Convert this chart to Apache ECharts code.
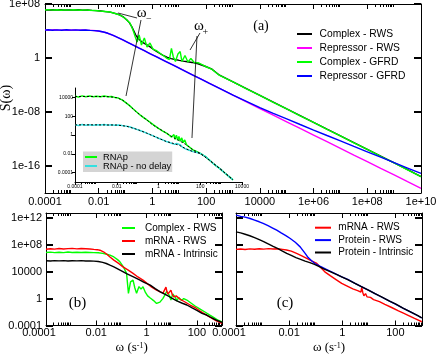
<!DOCTYPE html>
<html><head><meta charset="utf-8">
<script src="https://cdn.jsdelivr.net/npm/echarts@6/dist/echarts.min.js"></script>
<style>html,body{margin:0;padding:0;background:#fff}#c{width:436px;height:355px}</style>
</head><body><div id="c"></div>
<script>
// ---------------- DATA (omega, S(omega)) ----------------
// Panel (a)
const complexRws = [[1e-4,1.25e7],[1.5e-4,1.38e7],[2.2e-4,1.3e7],[3.3e-4,1.42e7],[5e-4,1.28e7],[7.5e-4,1.36e7],[1.1e-3,1.3e7],[1.7e-3,1.4e7],[2.5e-3,1.25e7],[3.8e-3,1.3e7],[5.6e-3,1.15e7],[8e-3,1.05e7],[0.012,9e6],[0.018,7.5e6],[0.027,6.2e6],[0.04,4e6],[0.06,2.4e6],[0.085,1.1e6],[0.11,4.5e5],[0.14,1.6e5],[0.17,4.5e4],[0.2,1.2e4],[0.24,2.5e3],[0.3,700],[0.4,250],[0.6,95],[0.85,40],[1.2,14],[1.7,6],[2.5,2.5],[3.6,1.2],[5,0.8],[7,0.6],[10,0.45],[14,0.35],[20,0.28],[30,0.22],[50,0.14],[91,0.06],[166,0.022],[316,2.8e-3],[1e3,2.9e-4],[3.16e3,2.8e-5],[1e4,2.9e-6],[3.16e4,2.9e-7],[1e5,2.8e-8],[3.16e5,2.9e-9],[1e6,2.8e-10],[3.16e6,2.8e-11],[1e7,3.0e-12],[3.16e7,2.8e-13],[1e8,2.8e-14],[3.16e8,2.8e-15],[1e9,2.8e-16],[3.16e9,2.8e-17],[1e10,2.7e-18]];
const repressorRws = [[1e-4,1.45e4],[1.5e-4,1.3e4],[2.2e-4,1.5e4],[3.3e-4,1.35e4],[5e-4,1.45e4],[7.5e-4,1.3e4],[1.1e-3,1.4e4],[1.7e-3,1.35e4],[2.5e-3,1.4e4],[3.8e-3,1.3e4],[5.6e-3,1.25e4],[8e-3,1.1e4],[0.012,8.6e3],[0.018,6e3],[0.027,3.3e3],[0.04,1.7e3],[0.06,800],[0.1,300],[0.16,120],[0.25,48],[0.4,19],[0.63,7.5],[1,3.0],[1.6,1.2],[2.5,0.5],[4,0.19],[6.3,0.078],[10,0.031],[16,0.012],[25,5e-3],[40,1.9e-3],[63,7.8e-4],[100,3.1e-4],[316,3.1e-5],[1e3,3.2e-6],[3.16e3,3.2e-7],[1e4,3.3e-8],[3.16e4,3.4e-9],[1e5,3.5e-10],[3.16e5,3.6e-11],[1e6,3.8e-12],[3.16e6,4e-13],[1e7,4.1e-14],[3.16e7,4.2e-15],[1e8,4.4e-16],[3.16e8,4.5e-17],[1e9,4.7e-18],[3.16e9,4.8e-19],[1e10,5e-20]];
const complexGfrd = [[1e-4,1.3e7],[1.4e-4,1.45e7],[2e-4,1.25e7],[2.8e-4,1.4e7],[4e-4,1.2e7],[5.5e-4,1.35e7],[8e-4,1.25e7],[1.1e-3,1.4e7],[1.6e-3,1.3e7],[2.2e-3,1.2e7],[3.1e-3,1.35e7],[4.5e-3,1.2e7],[7.2e-3,1.1e7],[0.011,9.1e6],[0.017,7.7e6],[0.026,6.5e6],[0.041,3.9e6],[0.062,2.3e6],[0.087,1.0e6],[0.11,4.3e5],[0.145,1.5e5],[0.17,3.9e4],[0.2,7.1e3],[0.23,1.3e3],[0.27,230],[0.32,2.6e3],[0.39,85],[0.5,910],[0.63,43],[0.81,170],[1.05,21],[1.48,11],[2.1,3.9],[2.7,2.0],[3.5,0.85],[4.3,0.6],[5.1,26],[6.0,1.4],[7.2,0.3],[8.9,3.9],[10.8,9.1],[12.6,0.3],[16.3,2.3],[21,0.26],[27,0.85],[36,0.22],[50,0.2],[91,0.06],[166,0.02],[316,2.6e-3],[1e3,3.0e-4],[3.16e3,2.6e-5],[1e4,3.0e-6],[3.16e4,2.7e-7],[1e5,2.9e-8],[3.16e5,2.7e-9],[1e6,3.0e-10],[3.16e6,2.6e-11],[1e7,2.9e-12],[3.16e7,2.7e-13],[1e8,2.9e-14],[3.16e8,2.6e-15],[1e9,2.9e-16],[3.16e9,2.7e-17],[1e10,2.6e-18]];
const repressorGfrd = [[1e-4,1.35e4],[1.3e-4,1.5e4],[1.9e-4,1.3e4],[2.8e-4,1.45e4],[4.2e-4,1.3e4],[6.3e-4,1.5e4],[9.5e-4,1.35e4],[1.4e-3,1.45e4],[2.1e-3,1.3e4],[3.2e-3,1.4e4],[4.8e-3,1.25e4],[7e-3,1.15e4],[0.01,9.8e3],[0.015,7e3],[0.022,4.6e3],[0.033,2.4e3],[0.05,1.15e3],[0.08,470],[0.13,180],[0.2,75],[0.32,29],[0.5,12],[0.8,4.6],[1.26,1.9],[2,0.75],[3.2,0.3],[5,0.12],[8,0.048],[12.6,0.019],[20,7.6e-3],[32,3e-3],[50,1.2e-3],[80,4.8e-4],[126,1.9e-4],[316,3.2e-5],[1e3,3.1e-6],[3.16e3,3.8e-7],[1e4,4.5e-8],[3.16e4,6.3e-9],[1e5,9.5e-10],[3.16e5,1.4e-10],[1e6,2.1e-11],[3.16e6,3.3e-12],[1e7,5.2e-13],[3.16e7,7.9e-14],[1e8,1.26e-14],[3.16e8,2e-15],[1e9,3.2e-16],[3.16e9,5e-17],[1e10,7.9e-18]];
// Inset of (a)
const rnap = [[1e-4,1.3e4],[1.5e-4,1.1e4],[2.2e-4,1.45e4],[3.3e-4,1.2e4],[5e-4,1.4e4],[7.5e-4,1.15e4],[1.1e-3,1.35e4],[1.7e-3,1.2e4],[2.5e-3,1.4e4],[3.8e-3,1.15e4],[5.6e-3,1.25e4],[8e-3,1.0e4],[0.012,8.5e3],[0.018,5.5e3],[0.027,2.8e3],[0.04,1.4e3],[0.06,620],[0.09,280],[0.14,120],[0.2,65],[0.27,42],[0.4,22],[0.6,11],[1,5],[1.6,2.6],[2.4,1.6],[3.2,1.0],[4.2,0.6],[5.0,0.45],[5.5,1.1],[6.2,0.35],[7.2,0.95],[8.3,0.28],[9.5,0.7],[11,0.22],[13,0.5],[15,0.15],[18,0.3],[22,0.09],[28,0.06],[45,0.026],[70,0.017],[100,0.011],[180,5e-3],[300,1.8e-3],[500,6.5e-4],[900,2.5e-4],[1.5e3,9e-5],[2.5e3,3.5e-5],[3.7e3,1.7e-5]];
const rnapNoDelay = [[1e-4,12],[1.5e-4,10.5],[2.2e-4,13],[3.3e-4,11],[5e-4,12.5],[7.5e-4,10.8],[1.1e-3,12.5],[1.7e-3,11.5],[2.5e-3,12.8],[3.8e-3,11],[5.6e-3,12],[8e-3,11.2],[0.012,11.5],[0.018,10],[0.027,8.8],[0.04,7.5],[0.06,5.5],[0.09,4],[0.14,2.8],[0.2,2.1],[0.27,1.6],[0.4,1.1],[0.6,0.75],[1,0.45],[1.6,0.3],[2.4,0.2],[3.2,0.17],[4.2,0.13],[5,0.16],[6,0.1],[7.5,0.13],[9,0.08],[11,0.09],[15,0.045],[22,0.03],[30,0.024],[45,0.017],[70,0.014],[100,0.011],[180,5e-3],[300,1.8e-3],[500,6.5e-4],[900,2.5e-4],[1.5e3,9e-5],[2.5e3,3.5e-5],[3.7e3,1.7e-5]];
const rnapTheory = [[1e-4,1.25e4],[1e-3,1.25e4],[4e-3,1.2e4],[0.01,9.5e3],[0.02,4.8e3],[0.04,1.4e3],[0.08,330],[0.15,110],[0.27,42],[0.5,13],[1,5],[2.4,1.6],[5,0.55],[10,0.25],[20,0.1],[45,0.026],[100,0.011],[300,1.8e-3],[900,2.5e-4],[3.7e3,1.7e-5]];
const noDelayTheory = [[1e-4,12],[1e-3,12],[0.01,11.5],[0.03,8.5],[0.1,3.8],[0.27,1.6],[1,0.45],[2.4,0.2],[5,0.13],[10,0.08],[20,0.035],[45,0.017],[100,0.011],[300,1.8e-3],[900,2.5e-4],[3.7e3,1.7e-5]];
// Panel (b)
const bComplexRws = [[1e-4,6.9e6],[1.5e-4,7.8e6],[2.2e-4,6.5e6],[3.3e-4,7.5e6],[5e-4,6.6e6],[7.5e-4,8e6],[1.1e-3,7e6],[1.7e-3,7.6e6],[2.5e-3,6.8e6],[3.8e-3,7.4e6],[5.6e-3,7e6],[8e-3,6.6e6],[0.012,6.2e6],[0.018,5e6],[0.026,3.8e6],[0.035,2.8e6],[0.05,1.5e6],[0.07,6e5],[0.087,2.8e5],[0.12,5e4],[0.16,5.4e3],[0.19,5.9],[0.23,300],[0.29,550],[0.34,40],[0.4,5.9],[0.5,60],[0.6,25],[0.72,56],[0.9,8],[1.1,2.5],[1.4,1.2],[1.9,0.5],[2.5,0.19],[3.4,0.3],[4.5,1.07],[5.5,4],[6.3,12],[7.1,18],[8,3],[9.3,0.6],[11,5],[12.3,9.1],[14,1.5],[16,0.43],[19,1.5],[21,2.3],[25,0.5],[30,1.0],[40,0.6],[60,0.2],[85,0.078],[130,0.03],[210,0.01],[330,3.5e-3],[480,1.5e-3],[700,6e-4],[1000,3.3e-4]];
const bMrnaRws = [[1e-4,2.1e7],[1.5e-4,2.5e7],[2.2e-4,2.2e7],[3.3e-4,2.7e7],[5e-4,2.3e7],[7.5e-4,2.6e7],[1.1e-3,2.8e7],[1.7e-3,2.4e7],[2.5e-3,2.7e7],[3.8e-3,2.5e7],[5.6e-3,2.3e7],[8e-3,2.0e7],[0.011,1.8e7],[0.014,1.5e7],[0.02,8e6],[0.027,3.5e6],[0.035,1.5e6],[0.05,5e5],[0.08,1.5e5],[0.115,5e4],[0.18,1.8e4],[0.29,5.4e3],[0.45,1.6e3],[0.72,550],[1.1,150],[1.6,50],[2.5,18],[3.5,10],[4.5,6.5],[5.2,8],[5.9,50],[6.5,10],[7.1,4.7],[8,6],[9.3,18],[10.5,4],[12.3,1.7],[15,2.5],[21,0.85],[30,0.4],[54,0.11],[90,0.04],[135,0.014],[210,5e-3],[330,1.8e-3],[600,5e-4],[1000,2e-4]];
const bMrnaIntrinsic = [[1e-4,4e5],[1.5e-4,3.7e5],[2.2e-4,4.3e5],[3.3e-4,3.9e5],[5e-4,4.2e5],[7.5e-4,3.8e5],[1.1e-3,4.1e5],[1.7e-3,3.9e5],[2.5e-3,4.2e5],[3.8e-3,3.7e5],[5.6e-3,3.9e5],[8e-3,3.6e5],[0.012,3.2e5],[0.018,2.3e5],[0.025,1.6e5],[0.035,9e4],[0.05,5e4],[0.065,3e4],[0.1,1.3e4],[0.16,5e3],[0.3,1.7e3],[0.5,650],[0.8,250],[1.4,100],[2.2,30],[3.5,10],[6.3,3.3],[10,1.2],[16,0.45],[25,0.22],[40,0.11],[65,0.04],[100,0.017],[160,6.5e-3],[245,3.6e-3],[400,1.3e-3],[650,5.5e-4],[1000,3e-4]];
// Panel (c)
const cMrnaRws = [[1e-4,2e7],[1.5e-4,2.3e7],[2.2e-4,1.9e7],[3.3e-4,2.4e7],[5e-4,2.1e7],[7.5e-4,2.5e7],[1.1e-3,2.2e7],[1.7e-3,2.6e7],[2.5e-3,2.3e7],[3.8e-3,2.5e7],[5.6e-3,2.0e7],[8e-3,1.6e7],[0.012,1.1e7],[0.019,5e6],[0.03,2.2e6],[0.046,9e5],[0.07,4e5],[0.11,1.6e5],[0.16,3.5e4],[0.22,9.3e3],[0.35,2.5e3],[0.6,600],[0.95,180],[1.6,66],[2.5,28],[4,14],[5.0,9],[5.4,45],[5.9,8],[6.5,2.5],[7.5,5.5],[8.5,1.8],[10,3],[11.5,1.5],[13,2],[15,0.7],[17,0.6],[25,0.35],[40,0.14],[72,0.047],[130,0.015],[200,6.8e-3],[300,3.2e-3],[500,1.2e-3],[980,3.6e-4]];
const cProteinRws = [[1e-4,2.4e12],[1.5e-4,1.6e12],[2.2e-4,1.2e12],[3.4e-4,7.6e11],[5e-4,4.5e11],[7.5e-4,2.5e11],[1.05e-3,1.4e11],[1.6e-3,6.5e10],[2.3e-3,3.2e10],[3.4e-3,1.4e10],[5e-3,5.5e9],[7.5e-3,2.2e9],[0.011,8.3e8],[0.017,2.3e8],[0.026,4.7e7],[0.04,5e6],[0.052,1.2e6],[0.07,4e5],[0.093,1.6e5],[0.15,6e4],[0.25,2.2e4],[0.45,7e3],[0.95,1.7e3],[1.6,680],[3,178],[5,65],[10,16],[17,5.4],[30,1.7],[60,0.41],[100,0.15],[200,0.036],[400,8.9e-3],[700,2.8e-3],[980,1.3e-3]];
const cProteinIntrinsic = [[1e-4,8e9],[1.5e-4,5.5e9],[2.2e-4,3.5e9],[3.3e-4,2.1e9],[5e-4,1.1e9],[7.5e-4,5.5e8],[1.1e-3,2.8e8],[1.7e-3,1.2e8],[2.5e-3,5.5e7],[3.8e-3,2.5e7],[5.6e-3,1.1e7],[8.1e-3,5e6],[0.012,2.5e6],[0.018,1.2e6],[0.027,6.5e5],[0.04,3.6e5],[0.06,2.2e5],[0.09,1.2e5],[0.13,6e4],[0.2,2.6e4],[0.35,9.8e3],[0.6,3.8e3],[0.95,1.7e3],[1.6,650],[3,185],[5,62],[10,16.5],[17,5.2],[30,1.75],[60,0.4],[100,0.16],[200,0.035],[400,9e-3],[700,2.9e-3],[980,1.35e-3]];
// Annotation pointers (omega, S) in panel (a) data space
const omegaMinusPointers = [[[0.0522,4.64e6],[0.267,8.43e5]],[[0.375,4.27e5],[0.104,2.34e-6]]];
const omegaPlusPointers = [[[59,5.06e3],[25.1,15.3]],[[45.7,1.82e3],[29.7,1.41e-12]]];
// Tick labels
const aXTicks = [1e-4,1e-2,1,1e2,1e4,1e6,1e8,1e10];
const aXLabels = ['0.0001','0.01','1','100','10000','1e+06','1e+08','1e+10'];
const aYTicks = [1e-16,1e-8,1,1e8];
const aYLabels = ['1e-16','1e-08','1','1e+08'];
const insTicks = [1e-4,1e-2,1,1e2,1e4];
const insLabels = ['0.0001','0.01','1','100','10000'];
const bcXTicks = [1e-4,1e-2,1,1e2];
const bcXLabels = ['{m|0.0001}','0.01','1','100'];
const bcYTicks = [1e-4,1,1e4,1e8,1e12];
const bcYLabels = ['0.0001','1','10000','1e+08','1e+12'];

// ---------------- BUILD ----------------
const SANS = '"Liberation Sans", Arial, sans-serif';
const SERIF = '"Liberation Serif", "Times New Roman", serif';
const L = Math.log10;
const toXY = arr => arr.map(p => [L(p[0]), L(p[1])]);
const findLabel = (ticks, labels) => v => { for (let i = 0; i < ticks.length; i++) if (Math.abs(L(ticks[i]) - v) < 1e-6) return labels[i]; return ''; };
function minorVals(e0, e1) { const out = []; for (let e = e0; e < e1; e += 2) for (let k = 2; k <= 9; k++) { const v = L(k) + e; if (v < e1) out.push(v); } return out; }

function axis(o) {
  const fs = o.fs || 11;
  return {
    type: 'value', gridIndex: o.g, position: o.pos, min: o.min, max: o.max,
    axisLine: { show: o.line !== false, onZero: false, lineStyle: { color: '#000', width: 1 } },
    axisTick: { show: true, inside: o.inside !== false, length: o.len, lineStyle: { color: '#000', width: o.tw || 1 }, customValues: o.vals },
    axisLabel: o.ticks ? { show: true, customValues: o.vals, formatter: findLabel(o.ticks, o.labels), fontFamily: SANS, fontSize: fs, color: '#000', margin: o.margin,
      rich: { m: { fontFamily: SANS, fontSize: fs, color: '#000', padding: [0, 14, 0, 0] } } } : { show: false },
    splitLine: { show: false }, minorTick: { show: false }, minorSplitLine: { show: false }
  };
}
const aR = [-4, 10], aYR = [-20, 8], iR = [-4, 4], iYR = [-5, 5], bR = [-4, 3], bYR = [-4, 12.7];
const xAxis = [
  axis({ g: 0, pos: 'bottom', min: aR[0], max: aR[1], vals: aXTicks.map(L), ticks: aXTicks, labels: aXLabels, len: 5, margin: 3 }),
  axis({ g: 0, pos: 'bottom', min: aR[0], max: aR[1], vals: minorVals(-4, 10), len: 3, line: false }),
  axis({ g: 0, pos: 'top', min: aR[0], max: aR[1], vals: aXTicks.map(L), len: 5 }),
  axis({ g: 0, pos: 'top', min: aR[0], max: aR[1], vals: minorVals(-4, 10), len: 3, line: false }),
  axis({ g: 1, pos: 'bottom', min: iR[0], max: iR[1], vals: insTicks.map(L), ticks: insTicks, labels: insLabels, len: 3, inside: false, fs: 5, margin: 2 }),
  axis({ g: 1, pos: 'bottom', min: iR[0], max: iR[1], vals: minorVals(-4, 4), len: 2, inside: false, line: false }),
  axis({ g: 2, pos: 'bottom', min: bR[0], max: bR[1], vals: bcXTicks.map(L), ticks: bcXTicks, labels: bcXLabels, len: 5, margin: 2 }),
  axis({ g: 2, pos: 'bottom', min: bR[0], max: bR[1], vals: minorVals(-4, 3), len: 3, line: false }),
  axis({ g: 2, pos: 'top', min: bR[0], max: bR[1], vals: bcXTicks.map(L), len: 5 }),
  axis({ g: 2, pos: 'top', min: bR[0], max: bR[1], vals: minorVals(-4, 3), len: 3, line: false }),
  axis({ g: 3, pos: 'bottom', min: bR[0], max: bR[1], vals: bcXTicks.map(L), ticks: bcXTicks, labels: bcXLabels, len: 5, margin: 2 }),
  axis({ g: 3, pos: 'bottom', min: bR[0], max: bR[1], vals: minorVals(-4, 3), len: 3, line: false }),
  axis({ g: 3, pos: 'top', min: bR[0], max: bR[1], vals: bcXTicks.map(L), len: 5 }),
  axis({ g: 3, pos: 'top', min: bR[0], max: bR[1], vals: minorVals(-4, 3), len: 3, line: false })
];
const yAxis = [
  axis({ g: 0, pos: 'left', min: aYR[0], max: aYR[1], vals: aYTicks.map(L), ticks: aYTicks, labels: aYLabels, len: 7, tw: 2, margin: 5 }),
  axis({ g: 0, pos: 'right', min: aYR[0], max: aYR[1], vals: aYTicks.map(L), len: 7, tw: 2 }),
  axis({ g: 1, pos: 'left', min: iYR[0], max: iYR[1], vals: insTicks.map(L), ticks: insTicks, labels: insLabels, len: 3, inside: false, fs: 5, margin: 2 }),
  axis({ g: 2, pos: 'left', min: bYR[0], max: bYR[1], vals: bcYTicks.map(L), ticks: bcYTicks, labels: bcYLabels, len: 7, tw: 2, margin: 4 }),
  axis({ g: 2, pos: 'right', min: bYR[0], max: bYR[1], vals: bcYTicks.map(L), len: 7, tw: 2 }),
  axis({ g: 3, pos: 'left', min: bYR[0], max: bYR[1], vals: bcYTicks.map(L), len: 7, tw: 2 }),
  axis({ g: 3, pos: 'right', min: bYR[0], max: bYR[1], vals: bcYTicks.map(L), len: 7, tw: 2 })
];
function line(name, arr, xi, yi, color, width, dashed, extra) {
  return Object.assign({
    type: 'line', name, xAxisIndex: xi, yAxisIndex: yi, data: toXY(arr), symbol: 'none', showSymbol: false,
    color, itemStyle: { color }, lineStyle: { color, width, type: dashed ? [2, 2] : 'solid' }, silent: true, animation: false, clip: true
  }, extra || {});
}
const ptrLine = ptrs => ptrs.map(p => [{ coord: [L(p[0][0]), L(p[0][1])] }, { coord: [L(p[1][0]), L(p[1][1])] }]);
const markLine = { symbol: ['none', 'none'], silent: true, animation: false, label: { show: false }, lineStyle: { color: '#000', width: 0.8, type: 'solid' },
  data: ptrLine(omegaMinusPointers).concat(ptrLine(omegaPlusPointers)) };

const series = [
  line('Complex - RWS', complexRws, 0, 0, '#000000', 1.4),
  line('Repressor - RWS', repressorRws, 0, 0, '#ff00ff', 1.4),
  line('Complex - GFRD', complexGfrd, 0, 0, '#00ff00', 1.4, false, { markLine }),
  line('Repressor - GFRD', repressorGfrd, 0, 0, '#0000ff', 1.4),
  line('RNAp', rnap, 4, 2, '#00ff00', 1.5),
  line('RNAp - no delay', rnapNoDelay, 4, 2, '#33e0e0', 1.5),
  line('rnap theory', rnapTheory, 4, 2, '#000000', 1, true),
  line('no delay theory', noDelayTheory, 4, 2, '#000000', 1, true),
  line('Complex - RWS\u200b', bComplexRws, 6, 3, '#00ff00', 1.4),
  line('mRNA - RWS\u200b', bMrnaRws, 6, 3, '#ff0000', 1.4),
  line('mRNA - Intrinsic', bMrnaIntrinsic, 6, 3, '#000000', 1.4),
  line('mRNA - RWS\u200b\u200b', cMrnaRws, 10, 5, '#ff0000', 1.4),
  line('Protein - RWS', cProteinRws, 10, 5, '#0000ff', 1.4),
  line('Protein - Intrinsic', cProteinIntrinsic, 10, 5, '#000000', 1.4)
];
const strip = n => n.replace(/\u200b/g, '');
function legend(o) {
  return Object.assign({ orient: 'vertical', padding: 0, itemGap: 0, selectedMode: false, formatter: strip, icon: 'rect', itemHeight: 2 }, o);
}
const option = {
  animation: false,
  backgroundColor: '#fff',
  grid: [
    { left: 45, top: 4, width: 376, height: 189, containLabel: false, outerBoundsMode: 'none' },
    { left: 75, top: 88, width: 167, height: 94, containLabel: false, outerBoundsMode: 'none' },
    { left: 46, top: 213, width: 176, height: 112.5, containLabel: false, outerBoundsMode: 'none' },
    { left: 236, top: 213, width: 186, height: 112.5, containLabel: false, outerBoundsMode: 'none' }
  ],
  xAxis, yAxis, series,
  legend: [
    legend({ left: 297, top: 27, itemWidth: 15, data: ['Complex - RWS', 'Repressor - RWS', 'Complex - GFRD', 'Repressor - GFRD'],
      textStyle: { fontFamily: SANS, fontSize: 10.3, color: '#000', lineHeight: 14, padding: [0, 0, 0, 2.5] } }),
    legend({ left: 83, top: 151.5, padding: [1, 1, 1.5, 2], backgroundColor: '#d4d4d4', itemWidth: 12, data: ['RNAp', 'RNAp - no delay'],
      textStyle: { fontFamily: SANS, fontSize: 9.3, color: '#000', lineHeight: 7.5, padding: [0, 0, 0, 1] } }),
    legend({ left: 122, top: 221.5, itemWidth: 13, data: ['Complex - RWS\u200b', 'mRNA - RWS\u200b', 'mRNA - Intrinsic'],
      textStyle: { fontFamily: SANS, fontSize: 10, color: '#000', lineHeight: 13, padding: [0, 0, 0, 5] } }),
    legend({ left: 315, top: 221.5, itemWidth: 16, data: ['mRNA - RWS\u200b\u200b', 'Protein - RWS', 'Protein - Intrinsic'],
      textStyle: { fontFamily: SANS, fontSize: 10, color: '#000', lineHeight: 12.4, padding: [0, 0, 0, 2.3] } })
  ],
  graphic: [
    { type: 'text', x: 261, y: 26, style: { text: '(a)', font: '14px ' + SERIF, fill: '#000', align: 'center', verticalAlign: 'middle' } },
    { type: 'text', x: 77.5, y: 303.3, style: { text: '(b)', font: '15px ' + SERIF, fill: '#000', align: 'center', verticalAlign: 'middle' } },
    { type: 'text', x: 285, y: 303.3, style: { text: '(c)', font: '15px ' + SERIF, fill: '#000', align: 'center', verticalAlign: 'middle' } },
    { type: 'text', x: 6, y: 98, rotation: Math.PI / 2, style: { text: 'S(ω)', font: '14px ' + SERIF, fill: '#000', align: 'center', verticalAlign: 'middle' } },
    { type: 'text', x: 141.7, y: 13, style: { text: 'ω', font: '15px ' + SERIF, fill: '#000', align: 'center', verticalAlign: 'middle' } },
    { type: 'text', x: 148.7, y: 19.5, style: { text: '−', font: '10px ' + SERIF, fill: '#000', align: 'center', verticalAlign: 'middle' } },
    { type: 'text', x: 199, y: 26, style: { text: 'ω', font: '15px ' + SERIF, fill: '#000', align: 'center', verticalAlign: 'middle' } },
    { type: 'text', x: 205.3, y: 32.5, style: { text: '+', font: '10px ' + SERIF, fill: '#000', align: 'center', verticalAlign: 'middle' } },
    { type: 'text', x: 131.7, y: 348, style: { text: '{n|ω (s}{s|-1}{n|)}', align: 'center', verticalAlign: 'middle', fill: '#000',
      rich: { n: { fontSize: 13, fontFamily: SERIF, fill: '#000' }, s: { fontSize: 8, fontFamily: SERIF, fill: '#000', verticalAlign: 'top' } } } },
    { type: 'text', x: 329, y: 348, style: { text: '{n|ω (s}{s|-1}{n|)}', align: 'center', verticalAlign: 'middle', fill: '#000',
      rich: { n: { fontSize: 13, fontFamily: SERIF, fill: '#000' }, s: { fontSize: 8, fontFamily: SERIF, fill: '#000', verticalAlign: 'top' } } } }
  ]
};
const chart = echarts.init(document.getElementById('c'), null, { renderer: 'canvas' });
chart.setOption(option);
</script></body></html>
